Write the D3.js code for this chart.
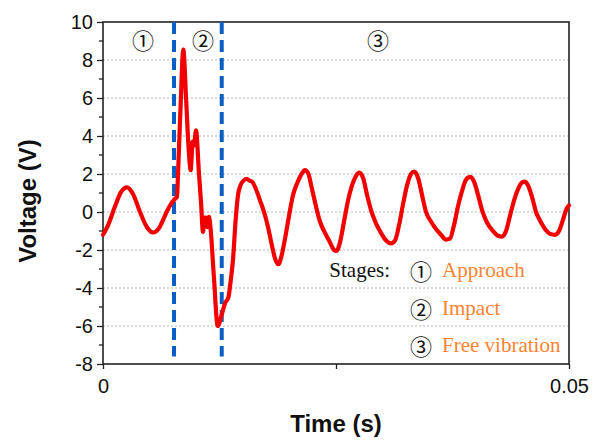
<!DOCTYPE html>
<html>
<head>
<meta charset="utf-8">
<script src="https://cdn.jsdelivr.net/npm/d3@7"></script>
<style>
  html, body { margin: 0; padding: 0; background: #fff; }
  svg { display: block; }
</style>
</head>
<body>
<svg id="chart" width="602" height="441"></svg>
<script>
// ---- data ----
const timeS = [0, 0.00054, 0.00129, 0.00193, 0.00258, 0.00322, 0.00397, 0.00472, 0.00537, 0.00601,
  0.00655, 0.00708, 0.00773, 0.00794, 0.00805, 0.00832, 0.00862, 0.00891, 0.00917, 0.00941,
  0.00962, 0.00976, 0.00998, 0.01030, 0.01052, 0.01073, 0.01089, 0.01105, 0.01121, 0.01137,
  0.01153, 0.01191, 0.01231, 0.01274, 0.01309, 0.01345, 0.01373, 0.01395, 0.01422, 0.01449,
  0.01475, 0.01508, 0.01542, 0.01572, 0.01599, 0.01642, 0.01685, 0.01728, 0.01771, 0.01814,
  0.01846, 0.01882, 0.01916, 0.01953, 0.01996, 0.02039, 0.02082, 0.02125, 0.02167, 0.02200,
  0.02243, 0.02285, 0.02328, 0.02382, 0.02436, 0.02479, 0.02505, 0.02543, 0.02586, 0.02629,
  0.02672, 0.02715, 0.02751, 0.02790, 0.02833, 0.02876, 0.02929, 0.02983, 0.03037, 0.03090,
  0.03133, 0.03176, 0.03219, 0.03262, 0.03305, 0.03340, 0.03380, 0.03423, 0.03466, 0.03519,
  0.03573, 0.03627, 0.03680, 0.03723, 0.03766, 0.03809, 0.03852, 0.03895, 0.03938, 0.03981,
  0.04024, 0.04067, 0.04120, 0.04185, 0.04238, 0.04281, 0.04324, 0.04367, 0.04410, 0.04453,
  0.04496, 0.04528, 0.04560, 0.04603, 0.04646, 0.04689, 0.04743, 0.04796, 0.04850, 0.04893,
  0.04936, 0.04968, 0.05];
const voltageV = [-1.2, -0.7, 0.3, 1.05, 1.3, 0.95, 0.0, -0.8, -1.08, -0.85,
  -0.3, 0.25, 0.7, 0.8, 2.0, 5.5, 8.55, 6.0, 3.5, 2.2,
  3.7, 3.5, 4.3, 2.0, 0.5, -1.05, -0.3, -0.3, -0.8, -0.25,
  -0.8, -3.5, -6.0, -5.4, -4.8, -4.5, -3.5, -2.5, -0.5, 0.9,
  1.4, 1.65, 1.75, 1.65, 1.6, 1.2, 0.6, 0.0, -0.8, -1.8,
  -2.45, -2.75, -2.3, -1.4, -0.2, 0.9, 1.5, 1.95, 2.2, 2.05,
  1.2, 0.3, -0.5, -1.1, -1.6, -2.0, -2.05, -1.6, -0.5, 0.6,
  1.4, 1.9, 2.07, 1.8, 0.9, 0.1, -0.6, -1.1, -1.5, -1.65,
  -1.5, -0.7, 0.4, 1.4, 2.0, 2.12, 1.8, 0.9, 0.0, -0.5,
  -0.9, -1.2, -1.45, -1.4, -0.7, 0.3, 1.1, 1.7, 1.85, 1.6,
  0.9, 0.1, -0.55, -1.0, -1.25, -1.3, -1.0, -0.2, 0.6, 1.2,
  1.55, 1.6, 1.4, 0.8, 0.0, -0.45, -0.9, -1.15, -1.2, -1.0,
  -0.4, 0.1, 0.35];
const stageBoundaries = [0.00762, 0.01274];
const stageMarkerLabels = ["①", "②", "③"];
const stageMarkerTimes = [0.00429, 0.01073, 0.02951];
const legendNums = ["①", "②", "③"];
const legendNames = ["Approach", "Impact", "Free vibration"];
const yTicks = [-8, -6, -4, -2, 0, 2, 4, 6, 8, 10];
const yMinorTicks = [-7, -5, -3, -1, 1, 3, 5, 7, 9];
const gridValues = [-6, -4, -2, 0, 2, 4, 6, 8];
const xTicks = [0, 0.025, 0.05];
const xTickLabels = ["0", "", "0.05"];

// ---- layout ----
const svg = d3.select("#chart");
const mLeft = 103, mRight = 569, mTop = 22, mBottom = 364;
const x = d3.scaleLinear().domain([0, 0.05]).range([mLeft, mRight]);
const y = d3.scaleLinear().domain([-8, 10]).range([mBottom, mTop]);

// grid
svg.append("g").selectAll("line").data(gridValues).join("line")
  .attr("x1", mLeft).attr("x2", mRight)
  .attr("y1", d => y(d)).attr("y2", d => y(d))
  .attr("stroke", "#b4b4b4").attr("stroke-width", 1)
  .attr("stroke-dasharray", "2,2");

// axes
const yAxis = d3.axisLeft(y).tickValues(yTicks).tickSize(6).tickPadding(4).tickFormat(d => String(d));
const gy = svg.append("g").attr("transform", `translate(${mLeft},0)`).call(yAxis);
gy.select(".domain").remove();
gy.selectAll("line").attr("stroke", "#222").attr("stroke-width", 1.3);
gy.selectAll("text").attr("font-family", "'Liberation Sans', Arial, sans-serif")
  .attr("font-size", 20).attr("fill", "#111");

svg.append("g").selectAll("line").data(yMinorTicks).join("line")
  .attr("x1", mLeft - 4).attr("x2", mLeft)
  .attr("y1", d => y(d)).attr("y2", d => y(d))
  .attr("stroke", "#222").attr("stroke-width", 1.3);

const xAxis = d3.axisBottom(x).tickValues(xTicks).tickSize(5).tickPadding(10)
  .tickFormat((d, i) => xTickLabels[i]);
const gx = svg.append("g").attr("transform", `translate(0,${mBottom})`).call(xAxis);
gx.select(".domain").remove();
gx.selectAll("line").attr("stroke", "#222").attr("stroke-width", 1.3);
gx.selectAll("text").attr("font-family", "'Liberation Sans', Arial, sans-serif")
  .attr("font-size", 20).attr("fill", "#111");

// frame
svg.append("rect").attr("x", mLeft).attr("y", mTop)
  .attr("width", mRight - mLeft).attr("height", mBottom - mTop)
  .attr("fill", "none").attr("stroke", "#222").attr("stroke-width", 1.6);

// stage boundaries
svg.append("g").selectAll("line").data(stageBoundaries).join("line")
  .attr("x1", d => x(d)).attr("x2", d => x(d))
  .attr("y1", mTop).attr("y2", y(-7.6))
  .attr("stroke", "#0b5fc4").attr("stroke-width", 4)
  .attr("stroke-dasharray", "12,6");

// curve
const pts = timeS.map((t, i) => [t, voltageV[i]]);
const line = d3.line().x(d => x(d[0])).y(d => y(d[1])).curve(d3.curveMonotoneX);
svg.append("path").datum(pts).attr("d", line)
  .attr("fill", "none").attr("stroke", "#f20000").attr("stroke-width", 4.2)
  .attr("stroke-linejoin", "round").attr("stroke-linecap", "round");

// stage markers at top
const cjk = "'Noto Sans CJK SC', 'DejaVu Sans', sans-serif";
svg.append("g").selectAll("text").data(stageMarkerLabels).join("text")
  .attr("x", (d, i) => x(stageMarkerTimes[i])).attr("y", 39)
  .attr("text-anchor", "middle").attr("dominant-baseline", "central")
  .attr("font-family", cjk).attr("font-size", 22).attr("fill", "#111")
  .text(d => d);

// legend
const serif = "'Liberation Serif', 'Times New Roman', serif";
const legendBase = [277, 315, 352];
svg.append("text").attr("x", 390).attr("y", legendBase[0])
  .attr("text-anchor", "end").attr("font-family", serif).attr("font-size", 21)
  .attr("fill", "#111").text("Stages:");
const lg = svg.append("g");
lg.selectAll("text.num").data(legendNums).join("text").attr("class", "num")
  .attr("x", 421).attr("y", (d, i) => legendBase[i] - 7)
  .attr("text-anchor", "middle").attr("dominant-baseline", "central")
  .attr("font-family", cjk).attr("font-size", 22).attr("fill", "#111")
  .text(d => d);
lg.selectAll("text.name").data(legendNames).join("text").attr("class", "name")
  .attr("x", 442).attr("y", (d, i) => legendBase[i])
  .attr("font-family", serif).attr("font-size", 21).attr("fill", "#ff8330")
  .text(d => d);

// axis titles
svg.append("text").attr("x", 336).attr("y", 432).attr("text-anchor", "middle")
  .attr("font-family", "'Liberation Sans', Arial, sans-serif").attr("font-weight", "bold")
  .attr("font-size", 24).attr("fill", "#111").text("Time (s)");
svg.append("text").attr("transform", "translate(36,201) rotate(-90)").attr("text-anchor", "middle")
  .attr("font-family", "'Liberation Sans', Arial, sans-serif").attr("font-weight", "bold")
  .attr("font-size", 24).attr("fill", "#111").text("Voltage (V)");
</script>
</body>
</html>
